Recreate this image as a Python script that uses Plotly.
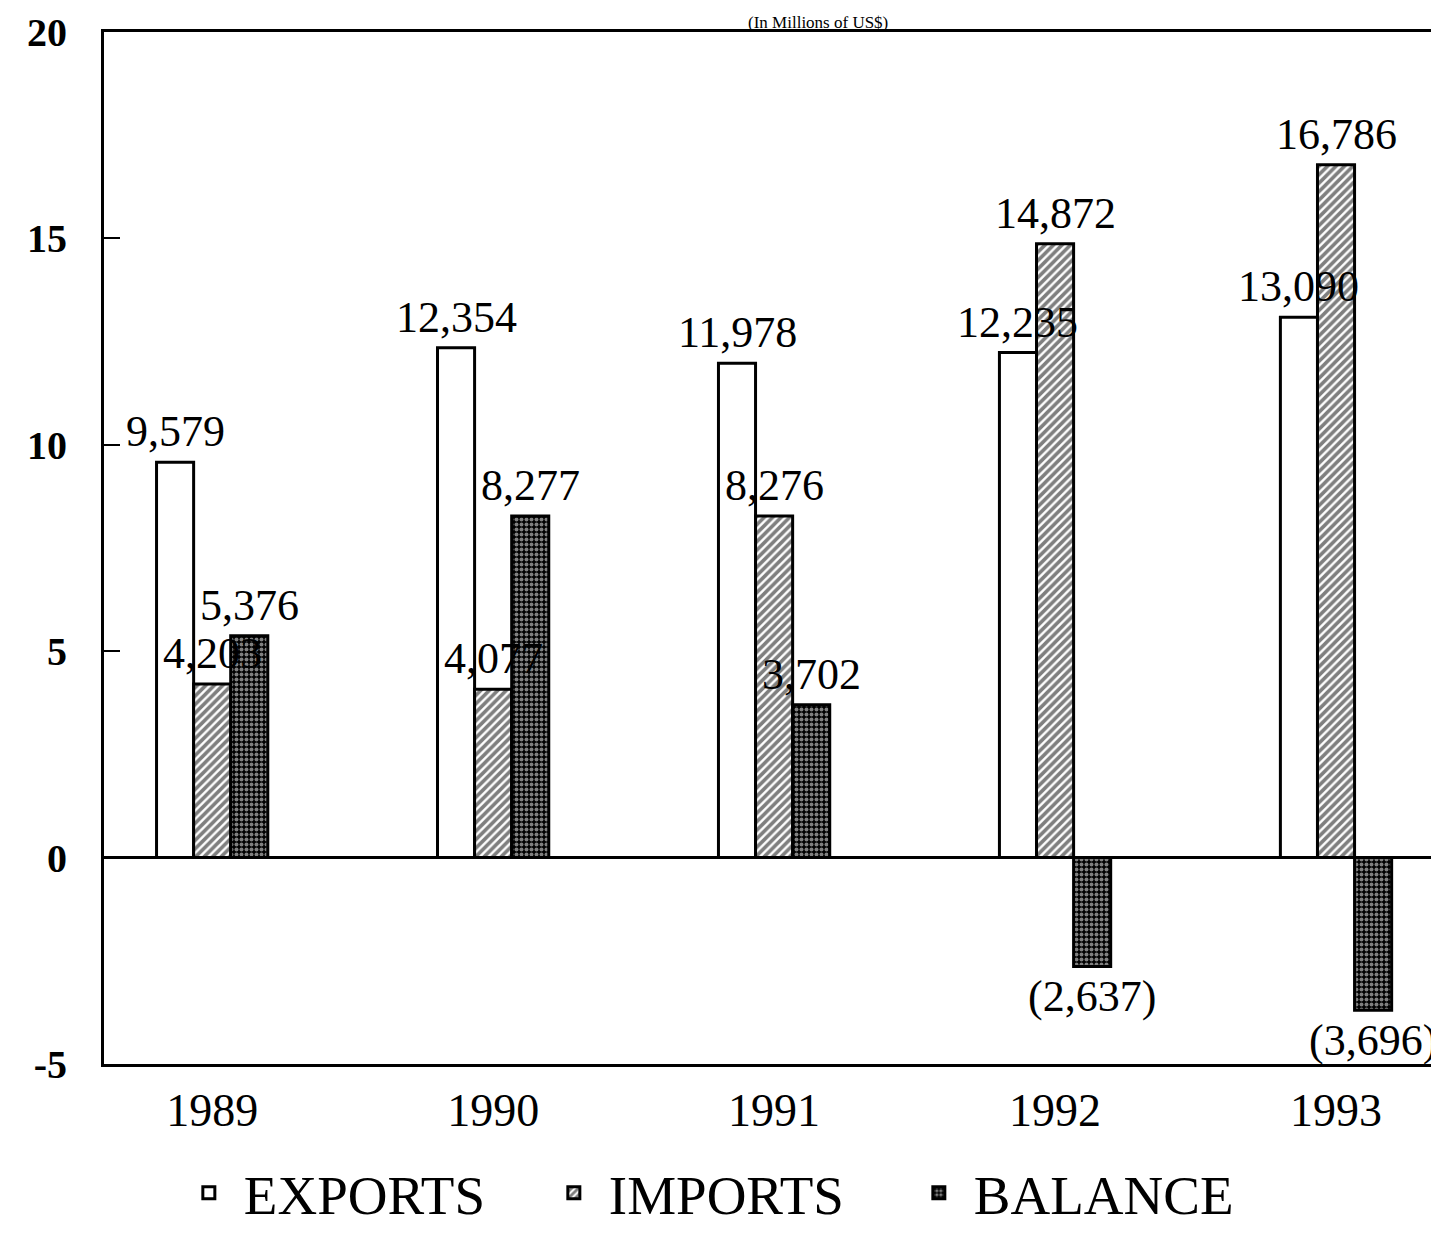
import plotly.graph_objects as go

years = ["1989", "1990", "1991", "1992", "1993"]
exports = [9579, 12354, 11978, 12235, 13090]
imports = [4203, 4077, 8276, 14872, 16786]
balance = [5376, 8277, 3702, -2637, -3696]
y_ticks = [-5, 0, 5, 10, 15, 20]
y_tick_labels = ["-5", "0", "5", "10", "15", "20"]
title_text = "(In Millions of US$)"

def fmt(v):
    s = f"{abs(v):,}"
    return f"({s})" if v < 0 else s

serif = "Liberation Serif, Times New Roman, serif"
label_font = dict(family=serif, size=44, color="black")

W, H = 1439, 1240
ML, MR, MT, MB = 96, 0, 24, 184
x_range = [-0.385, 4.395]
bargap = 0.604

series = [
    ("EXPORTS", exports, dict(color="white", line=dict(color="black", width=3))),
    ("IMPORTS", imports, dict(color="white", line=dict(color="black", width=3),
                              pattern=dict(shape="/", fgcolor="black", bgcolor="white",
                                           size=6, solidity=0.6))),
    ("BALANCE", balance, dict(color="black", line=dict(color="black", width=3),
                              pattern=dict(shape=".", fgcolor="white", bgcolor="black",
                                           size=5, solidity=0.5))),
]

fig = go.Figure()
for name, vals, marker in series:
    fig.add_trace(go.Bar(x=years, y=[v / 1000 for v in vals], name=name, marker=marker))

# value labels, drawn on top of all bars (bar offsets follow the grouped-bar layout)
px_per_cat = (W - ML - MR) / (x_range[1] - x_range[0])
bar_px = px_per_cat * (1 - bargap) / len(series)
annotations = []
for i, (name, vals, _) in enumerate(series):
    shift = (i - (len(series) - 1) / 2) * bar_px
    for k, v in enumerate(vals):
        annotations.append(dict(
            x=k, y=v / 1000, xref="x", yref="y", text=fmt(v), showarrow=False,
            xshift=shift, yshift=4 if v >= 0 else -4,
            xanchor="center", yanchor="bottom" if v >= 0 else "top",
            font=label_font))

fig.update_layout(
    width=W, height=H,
    margin=dict(l=ML, r=MR, t=MT, b=MB, autoexpand=False),
    paper_bgcolor="white", plot_bgcolor="white",
    barmode="group", bargap=bargap, bargroupgap=0,
    showlegend=True,
    legend=dict(orientation="h", x=0.052, y=-0.125, xanchor="left", yanchor="middle",
                font=dict(family=serif, size=55, color="black"),
                bgcolor="rgba(0,0,0,0)", itemwidth=60, traceorder="normal",
                entrywidth=290, entrywidthmode="pixels"),
    title=dict(text=title_text, x=0.563, xanchor="center", y=0.9885, yanchor="middle",
               xref="container", yref="container", pad=dict(t=0, b=0),
               font=dict(family=serif, size=17, color="black")),
    annotations=annotations,
)
fig.update_xaxes(
    type="category", range=x_range,
    showline=True, linecolor="black", linewidth=3, mirror=True,
    ticks="", showgrid=False, ticklabelstandoff=4,
    tickfont=dict(family=serif, size=46, color="black"),
)
fig.update_yaxes(
    range=[-5, 20], tickvals=y_ticks, ticktext=y_tick_labels,
    showline=True, linecolor="black", linewidth=3, mirror=False,
    ticks="inside", ticklen=16, tickwidth=2, tickcolor="black",
    showgrid=False, zeroline=True, zerolinecolor="black", zerolinewidth=3,
    tickfont=dict(family=serif, size=40, color="black", weight="bold"),
    ticklabelstandoff=26,
)

fig.write_html("out.html")
